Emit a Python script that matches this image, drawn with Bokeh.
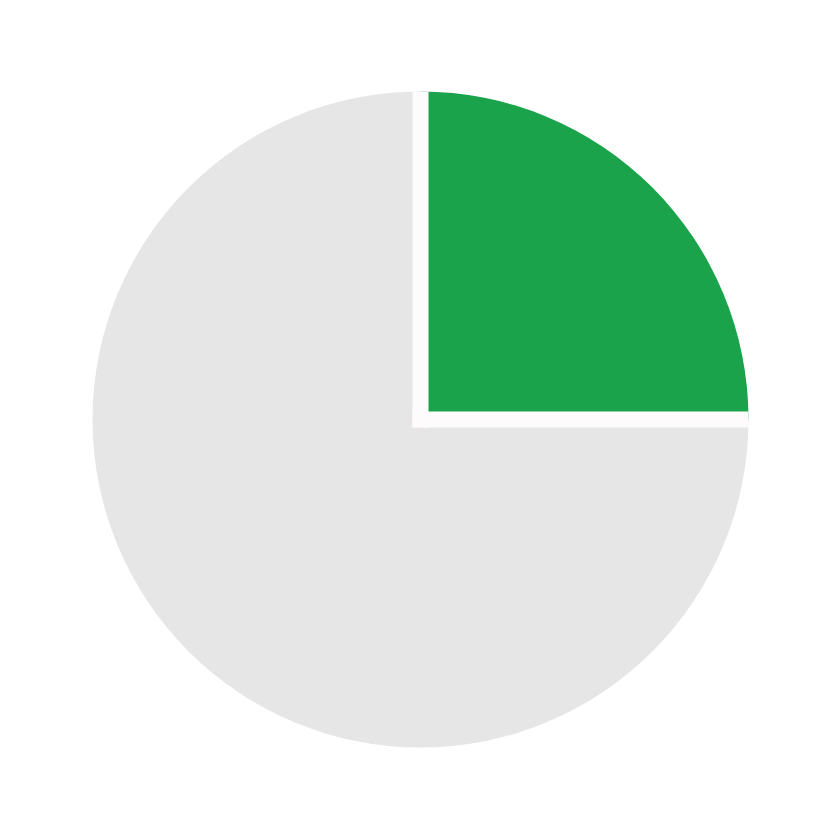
import numpy as np
from bokeh.plotting import figure
from bokeh.embed import file_html
from bokeh.resources import INLINE

# slice data
labels = ['Share', 'Rest']
values = [25, 75]
colors = ['#1aa34a', '#e6e6e6']

size = 824
cx, cy = 420, 405
radius = 328
gap = 16

frac = np.array(values, dtype=float) / sum(values)
cum = np.cumsum(frac)
ends = np.pi / 2 - 2 * np.pi * (cum - frac)
starts = np.pi / 2 - 2 * np.pi * cum

p = figure(width=size, height=size, x_range=(0, size), y_range=(0, size),
           output_backend="svg", toolbar_location=None, min_border=0)
p.axis.visible = False
p.grid.visible = False
p.outline_line_color = None

p.wedge(x=cx, y=cy, radius=radius, radius_units="screen",
        start_angle=starts, end_angle=ends, fill_color=colors, line_color=None)

# separators along slice boundaries
bounds = np.unique(np.mod(ends, 2 * np.pi))
seg_len = radius - gap / 2
p.segment(x0=[cx] * len(bounds), y0=[cy] * len(bounds),
          x1=cx + seg_len * np.cos(bounds), y1=cy + seg_len * np.sin(bounds),
          line_color='#fdfbfb', line_width=gap, line_cap='square')

open("out.html", "w").write(file_html(p, INLINE))
